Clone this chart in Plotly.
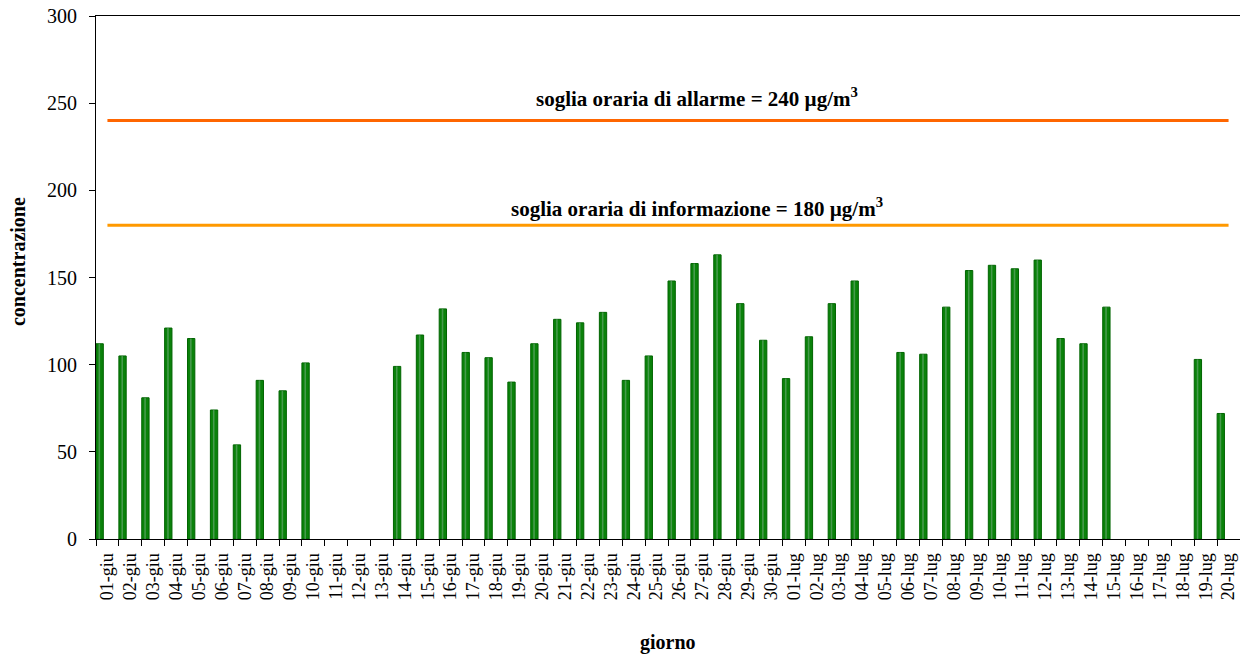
import plotly.graph_objects as go

# giorni (01-giu .. 20-lug)
days = [f"{d:02d}-giu" for d in range(1, 31)] + [f"{d:02d}-lug" for d in range(1, 21)]

# concentrazione massima oraria (None = dato mancante)
conc_giu = [112, 105, 81, 121, 115, 74, 54, 91, 85, 101,
            None, None, None, 99, 117, 132, 107, 104, 90, 112,
            126, 124, 130, 91, 105, 148, 158, 163, 135, 114]
conc_lug = [92, 116, 135, 148, None, 107, 106, 133, 154, 157,
            155, 160, 115, 112, 133, None, None, None, 103, 72]
concentration = conc_giu + conc_lug

alarm_level = 240
info_level = 180

FONT = "Times New Roman, Liberation Serif, serif"

fig = go.Figure()

fig.add_trace(go.Bar(
    x=days,
    y=concentration,
    width=0.32,
    offset=-0.5,
    marker=dict(color="#0a820a", line=dict(color="#006400", width=1)),
    showlegend=False
))

# riflesso chiaro sulle barre
fig.add_trace(go.Bar(
    x=days,
    y=concentration,
    width=0.07,
    offset=-0.39,
    marker=dict(color="rgba(110,170,120,0.6)", line=dict(width=0)),
    showlegend=False,
    hoverinfo="skip"
))

fig.add_trace(go.Scatter(
    x=days,
    y=[alarm_level] * len(days),
    mode="lines",
    line=dict(color="#FF6600", width=3),
    showlegend=False
))

fig.add_trace(go.Scatter(
    x=days,
    y=[info_level] * len(days),
    mode="lines",
    line=dict(color="#FF9900", width=3),
    showlegend=False
))

fig.add_annotation(
    x=0.525, xref="paper", y=alarm_level + 13, yref="y",
    xanchor="center", yanchor="middle",
    text=f"<b>soglia oraria di allarme = {alarm_level} µg/m<sup>3</sup></b>",
    showarrow=False, font=dict(family=FONT, size=21, color="black")
)
fig.add_annotation(
    x=0.525, xref="paper", y=info_level + 10, yref="y",
    xanchor="center", yanchor="middle",
    text=f"<b>soglia oraria di informazione = {info_level} µg/m<sup>3</sup></b>",
    showarrow=False, font=dict(family=FONT, size=21, color="black")
)

fig.add_annotation(
    x=0.5, xref="paper", y=-0.198, yref="paper",
    xanchor="center", yanchor="middle",
    text="<b>giorno</b>", showarrow=False,
    font=dict(family=FONT, size=20, color="black")
)
fig.add_annotation(
    x=-0.068, xref="paper", y=0.53, yref="paper",
    xanchor="center", yanchor="middle",
    text="<b>concentrazione</b>", textangle=-90, showarrow=False,
    font=dict(family=FONT, size=20, color="black")
)

fig.update_layout(
    width=1240,
    height=655,
    margin=dict(l=96, r=0, t=16, b=116),
    paper_bgcolor="white",
    plot_bgcolor="white",
    barmode="overlay",
    font=dict(family=FONT, color="black"),
    xaxis=dict(
        type="category",
        tickmode="linear",
        dtick=1,
        tickson="boundaries",
        ticks="outside",
        ticklen=6,
        tickcolor="black",
        tickangle=-90,
        ticklabelstandoff=6,
        ticklabeloverflow="allow",
        tickfont=dict(family=FONT, size=18, color="black"),
        showline=True,
        linecolor="black",
        linewidth=1,
        mirror=True,
        showgrid=False,
        automargin=False,
    ),
    yaxis=dict(
        range=[0, 300],
        dtick=50,
        ticks="outside",
        ticklen=6,
        tickcolor="black",
        tickfont=dict(family=FONT, size=20, color="black"),
        ticklabelstandoff=8,
        ticklabeloverflow="allow",
        showline=True,
        linecolor="black",
        linewidth=1,
        showgrid=False,
        zeroline=False,
        automargin=False,
    ),
)

# niente margine della pagina e niente modebar
fig.write_html(
    "out.html",
    config={"displayModeBar": False},
    post_script="document.body.style.margin='0';"
)
